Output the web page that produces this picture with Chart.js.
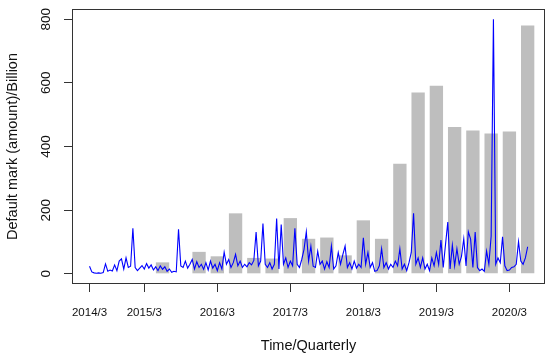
<!DOCTYPE html>
<html>
<head>
<meta charset="utf-8">
<script src="https://cdn.jsdelivr.net/npm/chart.js@4.4.1/dist/chart.umd.min.js"></script>
<style>
  html, body { margin: 0; padding: 0; background: #fff; }
</style>
</head>
<body>
<canvas id="chart" width="550" height="359"></canvas>
<script>
// time is counted in quarters, 0 = 2015/3
const xTickPos = [-3, 0, 4, 8, 12, 16, 20];
const xTickLabels = ['2014/3', '2015/3', '2016/3', '2017/3', '2018/3', '2019/3', '2020/3'];
const yTicks = [0, 200, 400, 600, 800];

// quarterly bars, from 2015/6 to 2020/6
const barStart = 1;
const barValues = [36, 0, 69, 55, 190, 50, 48, 175, 110, 114, 58, 168, 110,
  346, 570, 591, 461, 450, 441, 447, 780];

// blue series, one value every 1/8 quarter starting at 2014/3
const lineStart = -3;
const lineStep = 0.125;
const lineValues = [
  24, 6, 3, 2, 3, 2, 4, 31, 8, 12, 9, 28, 10, 40, 47, 15, 50, 20, 24, 143,
  20, 10, 18, 26, 15, 32, 18, 28, 12, 22, 10, 25, 14, 22, 8, 15, 5, 8, 6, 140,
  25, 20, 40, 18, 30, 45, 15, 38, 20, 30, 14, 35, 12, 40, 18, 30, 10, 35, 15, 68,
  30, 45, 20, 35, 61, 25, 40, 20, 30, 22, 35, 28, 42, 131, 25, 40, 158, 30, 20, 35,
  15, 30, 174, 15, 155, 30, 50, 20, 40, 25, 143, 30, 20, 45, 77, 132, 40, 87, 24, 20,
  71, 30, 40, 15, 38, 20, 87, 15, 25, 67, 30, 60, 87, 20, 35, 15, 40, 18, 30, 20,
  113, 30, 67, 20, 35, 8, 10, 25, 79, 20, 35, 15, 30, 20, 40, 25, 79, 15, 30, 10,
  35, 67, 190, 30, 50, 20, 50, 15, 30, 10, 50, 25, 67, 30, 106, 20, 92, 163, 15, 90,
  25, 79, 30, 55, 110, 25, 132, 109, 20, 131, 20, 10, 15, 8, 71, 30, 118, 800, 30, 50,
  35, 116, 25, 10, 12, 20, 22, 30, 101, 40, 30, 50, 85
];

const barData = barValues.map((v, i) => ({ x: barStart + i, y: v }));
const lineData = lineValues.map((v, i) => ({ x: lineStart + i * lineStep, y: v }));

const axisColor = '#333';
const fontFamily = '"Liberation Sans", Arial, Helvetica, sans-serif';

// box round the plot and rotated y labels, like base R graphics
const rStyle = {
  id: 'rStyle',
  afterDraw(chart) {
    const ctx = chart.ctx;
    const a = chart.chartArea;
    ctx.save();
    ctx.strokeStyle = axisColor;
    ctx.lineWidth = 1;
    ctx.strokeRect(Math.round(a.left) + 0.5, Math.round(a.top) + 0.5,
      Math.round(a.right - a.left) - 1, Math.round(a.bottom - a.top) - 1);

    const y = chart.scales.y;
    ctx.fillStyle = '#111';
    ctx.font = '13.5px ' + fontFamily;
    ctx.textAlign = 'center';
    ctx.textBaseline = 'middle';
    yTicks.forEach(v => {
      ctx.save();
      ctx.translate(46.5, y.getPixelForValue(v));
      ctx.rotate(-Math.PI / 2);
      ctx.fillText(String(v), 0, 0);
      ctx.restore();
    });
    ctx.restore();
  }
};

new Chart(document.getElementById('chart'), {
  type: 'bar',
  data: {
    datasets: [
      {
        type: 'line',
        data: lineData,
        borderColor: '#0000ff',
        borderWidth: 1.1,
        pointRadius: 0,
        tension: 0,
        fill: false,
        order: 1
      },
      {
        type: 'bar',
        data: barData,
        backgroundColor: '#bebebe',
        borderWidth: 0,
        categoryPercentage: 1.0,
        barPercentage: 0.73,
        order: 2
      }
    ]
  },
  options: {
    responsive: false,
    animation: false,
    devicePixelRatio: 1,
    layout: { padding: { top: 9, right: 5, left: 0, bottom: 0 } },
    plugins: {
      legend: { display: false },
      tooltip: { enabled: false }
    },
    scales: {
      x: {
        type: 'linear',
        offset: false,
        min: -3.96,
        max: 21.95,
        afterBuildTicks: scale => { scale.ticks = xTickPos.map(v => ({ value: v })); },
        afterFit: scale => { scale.height = 75; },
        ticks: {
          autoSkip: false,
          maxRotation: 0,
          padding: 14,
          color: '#111',
          font: { family: fontFamily, size: 11.5 },
          callback: v => xTickLabels[xTickPos.indexOf(v)]
        },
        grid: { offset: false, drawOnChartArea: false, drawTicks: true, tickLength: 8, color: axisColor },
        border: { display: false },
        title: {
          display: true,
          text: 'Time/Quarterly',
          color: '#111',
          font: { family: fontFamily, size: 14.5 },
          padding: { top: 0, bottom: 4 }
        }
      },
      y: {
        min: -32,
        max: 832,
        afterBuildTicks: scale => { scale.ticks = yTicks.map(v => ({ value: v })); },
        afterFit: scale => { scale.width = 72; },
        ticks: { display: false },
        grid: { drawOnChartArea: false, drawTicks: true, tickLength: 8, color: axisColor },
        border: { display: false },
        title: {
          display: true,
          text: 'Default mark (amount)/Billion',
          color: '#111',
          font: { family: fontFamily, size: 14.5 },
          padding: { top: 4, bottom: 0 }
        }
      }
    }
  },
  plugins: [rStyle]
});
</script>
</body>
</html>
